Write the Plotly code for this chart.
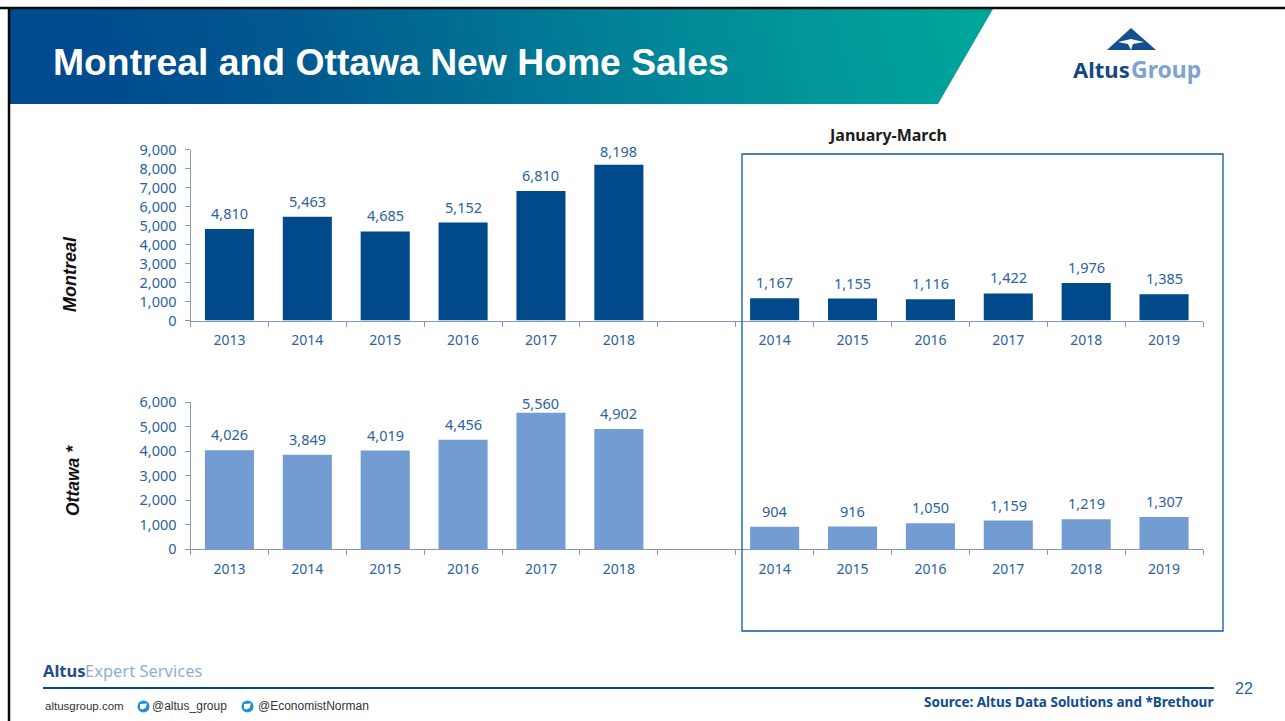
import base64
import plotly.graph_objects as go

# ---- data ----
annual_years = ["2013", "2014", "2015", "2016", "2017", "2018"]
q1_years = ["2014", "2015", "2016", "2017", "2018", "2019"]
montreal_annual = [4810, 5463, 4685, 5152, 6810, 8198]
montreal_q1 = [1167, 1155, 1116, 1422, 1976, 1385]
ottawa_annual = [4026, 3849, 4019, 4456, 5560, 4902]
ottawa_q1 = [904, 916, 1050, 1159, 1219, 1307]
montreal_ticks = [0, 1000, 2000, 3000, 4000, 5000, 6000, 7000, 8000, 9000]
ottawa_ticks = [0, 1000, 2000, 3000, 4000, 5000, 6000]

W, H = 1285, 721
NAVY = "#004a8c"
LIGHT = "#739dd2"
TXT = "#2b62a0"
AXIS = "#8497bf"
FONT = "Noto Sans"


def xp(x):
    return x / W


def yp(y):
    return 1 - y / H


# Slots along the shared x axis: six annual bars, an empty slot, six Q1 bars
tick_text = annual_years + [""] + q1_years
slots = list(range(len(tick_text)))

fig = go.Figure()
panels = [
    ("x", "y", montreal_annual + [None] + montreal_q1, NAVY),
    ("x2", "y2", ottawa_annual + [None] + ottawa_q1, LIGHT),
]
for xa, ya, vals, col in panels:
    fig.add_trace(go.Bar(x=slots, y=vals, xaxis=xa, yaxis=ya,
                         marker=dict(color=col, line=dict(width=0)),
                         showlegend=False, hoverinfo="skip"))

axis_x = dict(type="linear", range=[-0.5, len(slots) - 0.5], tickmode="array", tickvals=slots,
              ticktext=tick_text, ticks="", ticklabelstandoff=7,
              minor=dict(ticks="outside", ticklen=5, tickcolor=AXIS, tick0=-0.5, dtick=1, showgrid=False),
              showline=True, linecolor=AXIS, linewidth=1, showgrid=False, zeroline=False,
              tickfont=dict(family=FONT, size=14, color=TXT), tickangle=0, fixedrange=True, automargin=False)


def axis_y(vals, top):
    return dict(range=[0, top], tickmode="array", tickvals=vals,
                ticktext=[f"{v:,}" for v in vals], ticks="outside", ticklen=5, tickcolor=AXIS,
                ticklabelstandoff=5,
                showline=True, linecolor=AXIS, linewidth=1, showgrid=False, zeroline=False,
                tickfont=dict(family=FONT, size=14.5, color=TXT), fixedrange=True, automargin=False)


annos = []
# per-label lift (px) where the source moved a label closer to its bar
lift = {("y", 5): 2, ("y2", 4): -2, ("y2", 5): 4}
for xa, ya, vals, col in panels:
    for i, v in enumerate(vals):
        if v is None:
            continue
        annos.append(dict(x=slots[i], y=v, xref=xa, yref=ya, text=f"{v:,}", showarrow=False,
                          yanchor="bottom", yshift=lift.get((ya, i), 4),
                          font=dict(family=FONT, size=14.5, color=TXT)))


def note(x, y, text, size, color, family=FONT, bold=False, italic=False, anchor="left", angle=0, yanchor="middle"):
    t = f"<b>{text}</b>" if bold else text
    t = f"<i>{t}</i>" if italic else t
    annos.append(dict(x=xp(x), y=yp(y), xref="paper", yref="paper", text=t, showarrow=False,
                      xanchor=anchor, yanchor=yanchor, textangle=angle,
                      font=dict(family=family, size=size, color=color)))


note(51, 62, "Montreal and Ottawa New Home Sales", 37.3, "#ffffff", "Liberation Sans", bold=True)
note(887, 135, "January-March", 16, "#1c1c1c", bold=True, anchor="center")
note(70, 274, "Montreal", 18, "#111111", "Liberation Sans", bold=True, italic=True, anchor="center", angle=-90)
note(73, 481, "Ottawa *", 17.5, "#111111", "Liberation Sans", bold=True, italic=True, anchor="center", angle=-90)
note(1071, 69, "<b>Altus</b>", 22, "#14497f")
note(1129, 69, "<b>Group</b>", 23, "#7ea3d3")
note(41, 670, "<b>Altus</b>", 16.5, "#1f4f86")
note(83, 670, "Expert Services", 16.5, "#8faed8")
note(43, 706, "altusgroup.com", 11.5, "#333333", "Liberation Sans")
note(150, 706, "@altus_group", 12, "#333333", "Liberation Sans")
note(256, 706, "@EconomistNorman", 12, "#333333", "Liberation Sans")
note(1215, 702, "Source: Altus Data Solutions and *Brethour", 13.5, "#0f4d8f", bold=True, anchor="right")
note(1255, 688, "22", 16, "#2b62a0", "Liberation Sans", anchor="right")

# header band gradient
svg = (f'<svg xmlns="http://www.w3.org/2000/svg" width="{W}" height="{H}" viewBox="0 0 {W} {H}">'
       '<defs><linearGradient id="g" gradientUnits="userSpaceOnUse" x1="120" y1="200" x2="960" y2="-20">'
       '<stop offset="0" stop-color="#004a8f"/><stop offset="0.25" stop-color="#015a8f"/>'
       '<stop offset="0.7" stop-color="#028c99"/><stop offset="1" stop-color="#00a59a"/></linearGradient></defs>'
       '<polygon points="10,9 993,9 938,104 10,104" fill="url(#g)"/></svg>')
images = [dict(source="data:image/svg+xml;base64," + base64.b64encode(svg.encode()).decode(),
               xref="paper", yref="paper", x=0, y=1, sizex=1, sizey=1, xanchor="left", yanchor="top",
               sizing="stretch", layer="below")]


def poly(points, color, line=None, width=0):
    path = "M" + " L".join(f"{xp(a)},{yp(b)}" for a, b in points) + " Z"
    return dict(type="path", xref="paper", yref="paper", path=path, fillcolor=color,
                line=dict(color=line or color, width=width), layer="above")


def seg(x0, y0, x1, y1, color, width):
    return dict(type="line", xref="paper", yref="paper", x0=xp(x0), y0=yp(y0), x1=xp(x1), y1=yp(y1),
                line=dict(color=color, width=width), layer="above")


def circle(cx, cy, r, color):
    return dict(type="circle", xref="paper", yref="paper", x0=xp(cx - r), x1=xp(cx + r),
                y0=yp(cy + r), y1=yp(cy - r), fillcolor=color, line=dict(width=0), layer="above")


shapes = [
    seg(0, 8, W, 8, "#0a0a0a", 2.5),
    seg(9, 7, 9, H, "#0a0a0a", 2.5),
    dict(type="rect", xref="paper", yref="paper", x0=xp(742), x1=xp(1223), y0=yp(631), y1=yp(154),
         line=dict(color="#0f5aa0", width=1.3), fillcolor="rgba(0,0,0,0)", layer="above"),
    seg(43, 688, 1214, 688, NAVY, 2),
    # logo
    poly([(1131, 28), (1156, 50), (1107, 50)], "#12508f"),
    poly([(1118, 42), (1131, 39), (1144, 42), (1133, 44), (1131, 50), (1128, 44)], "#ffffff"),
]
for cx in (143.5, 247.5):
    shapes.append(circle(cx, 706.5, 6, "#1d91d8"))
    shapes.append(poly([(cx - 3.5, 704), (cx + 3.5, 703.5), (cx + 2, 708), (cx - 1, 709.5), (cx - 3.5, 708.5)], "#ffffff"))

fig.update_layout(
    template="none",
    width=W, height=H, margin=dict(l=0, r=0, t=0, b=0, pad=0), autosize=False,
    paper_bgcolor="#ffffff", plot_bgcolor="rgba(0,0,0,0)", bargap=0.37, showlegend=False,
    xaxis=dict(axis_x, domain=[xp(190.5), xp(1203)], anchor="y"),
    xaxis2=dict(axis_x, domain=[xp(190.5), xp(1203)], anchor="y2"),
    yaxis=axis_y(montreal_ticks, 9000) | dict(domain=[yp(320.5), yp(149.5)], anchor="x"),
    yaxis2=axis_y(ottawa_ticks, 6000) | dict(domain=[yp(549), yp(402)], anchor="x2"),
    annotations=annos, shapes=shapes, images=images,
)

fig.write_html("out.html", config={"displayModeBar": False},
               post_script="document.body.style.margin='0';")
